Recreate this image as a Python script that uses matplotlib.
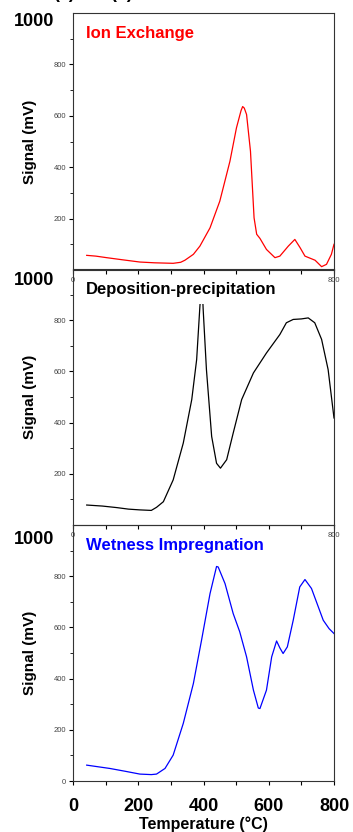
import matplotlib
matplotlib.use('Agg')
import matplotlib.pyplot as plt

plt.rcParams['font.family'] = ['Liberation Sans', 'DejaVu Sans']

# Ion exchange (red)
t_ie = [42, 70, 103, 150, 205, 250, 307, 330, 343, 369, 389, 420, 450, 481, 501, 515,
        520, 525, 532, 544, 555, 563, 573, 593, 619, 634, 660, 680, 696, 711, 742, 762,
        777, 792, 800]
s_ie = [57, 54, 48, 40, 31, 28, 26, 30, 38, 61, 93, 164, 268, 423, 553, 620,
        636, 630, 605, 462, 203, 139, 123, 80, 48, 54, 93, 119, 87, 54, 38, 13,
        22, 61, 100]

# Deposition-precipitation (black)
t_dp = [42, 90, 134, 170, 205, 240, 256, 277, 307, 338, 364, 379, 389, 395, 399, 409,
        425, 440, 452, 471, 491, 517, 553, 593, 634, 654, 675, 700, 721, 741, 762,
        782, 800]
s_dp = [78, 74, 68, 62, 59, 57, 69, 91, 176, 320, 490, 646, 855, 960, 842, 607,
        346, 241, 222, 255, 359, 490, 594, 672, 744, 790, 803, 805, 809, 790, 725,
        607, 418]

# Wetness impregnation (blue)
t_wi = [42, 80, 113, 160, 205, 240, 256, 282, 307, 338, 369, 394, 420, 440, 445, 466,
        491, 511, 532, 553, 568, 573, 593, 609, 624, 634, 644, 657, 675, 695, 711, 731,
        767, 785, 800]
s_wi = [62, 55, 49, 38, 27, 25, 27, 49, 101, 225, 381, 550, 732, 838, 836, 771,
        654, 583, 485, 355, 285, 283, 355, 485, 547, 520, 498, 524, 628, 758, 787, 752,
        628, 595, 576]

x_ticks = list(range(0, 801, 100))
y_ticks = [200, 400, 600, 800]

panels = [
    (t_ie, s_ie, 'red', 'Ion Exchange', '#ff0000'),
    (t_dp, s_dp, 'black', 'Deposition-precipitation', '#000000'),
    (t_wi, s_wi, 'blue', 'Wetness Impregnation', '#0000ff'),
]

fig = plt.figure(figsize=(3.53, 8.32), dpi=100)
W, H = 353.0, 832.0
# (top px, bottom px) for each panel
rows = [(13, 270), (269, 525), (525, 781)]
left, right = 73, 334

for i, ((t, s, c, name, tc), (top, bot)) in enumerate(zip(panels, rows)):
    ax = fig.add_axes([left / W, (H - bot) / H, (right - left) / W, (bot - top) / H])
    ax.set_facecolor('none')
    ax.plot(t, s, color=c, lw=0.9)
    ax.set_xlim(0, 800)
    ax.set_ylim(0, 1000)
    ax.set_xticks(x_ticks)
    if i < 2:
        ax.set_yticks(y_ticks)
        ax.set_xticklabels(['0', '', '', '', '', '', '', '', '800'])
        ax.tick_params(axis='x', labelsize=5.5, labelcolor='#444444', length=3, pad=2)
    else:
        ax.set_yticks([0] + y_ticks)
        ax.set_xticklabels(['0', '', '200', '', '400', '', '600', '', '800'],
                           fontsize=13, fontweight='bold')
        ax.tick_params(axis='x', length=3, pad=9)
        ax.set_xlabel('Temperature (°C)', fontsize=11.5, fontweight='bold', labelpad=1)
    ax.set_yticks(range(100, 1000, 200), minor=True)
    ax.tick_params(axis='y', labelsize=5.5, labelcolor='#444444', length=3, pad=2)
    ax.tick_params(axis='y', which='minor', length=2)
    ax.set_ylabel('Signal (mV)', fontsize=11, fontweight='bold', labelpad=12)
    for sp in ax.spines.values():
        sp.set_linewidth(0.8)
        sp.set_color('#333333')
    # big "1000" label on the left
    ax.text(-0.07, 0.965 - 0.01 * i, '1000', transform=ax.transAxes, ha='right',
            va='center', fontsize=13, fontweight='bold')
    ax.text(0.05, 0.92, name, transform=ax.transAxes, ha='left', va='center',
            fontsize=12, fontweight='bold', color=tc, zorder=5,
            bbox=dict(facecolor='white', edgecolor='none', pad=5 if i == 1 else 1))

# cut-off panel labels at the very top
fig.text(53 / W, 1 + 1.5 / H, '(a)', fontsize=13, fontweight='bold', va='baseline')
fig.text(110 / W, 1 + 1.5 / H, '(b)', fontsize=13, fontweight='bold', va='baseline')

fig.savefig('out.png', dpi=100)
